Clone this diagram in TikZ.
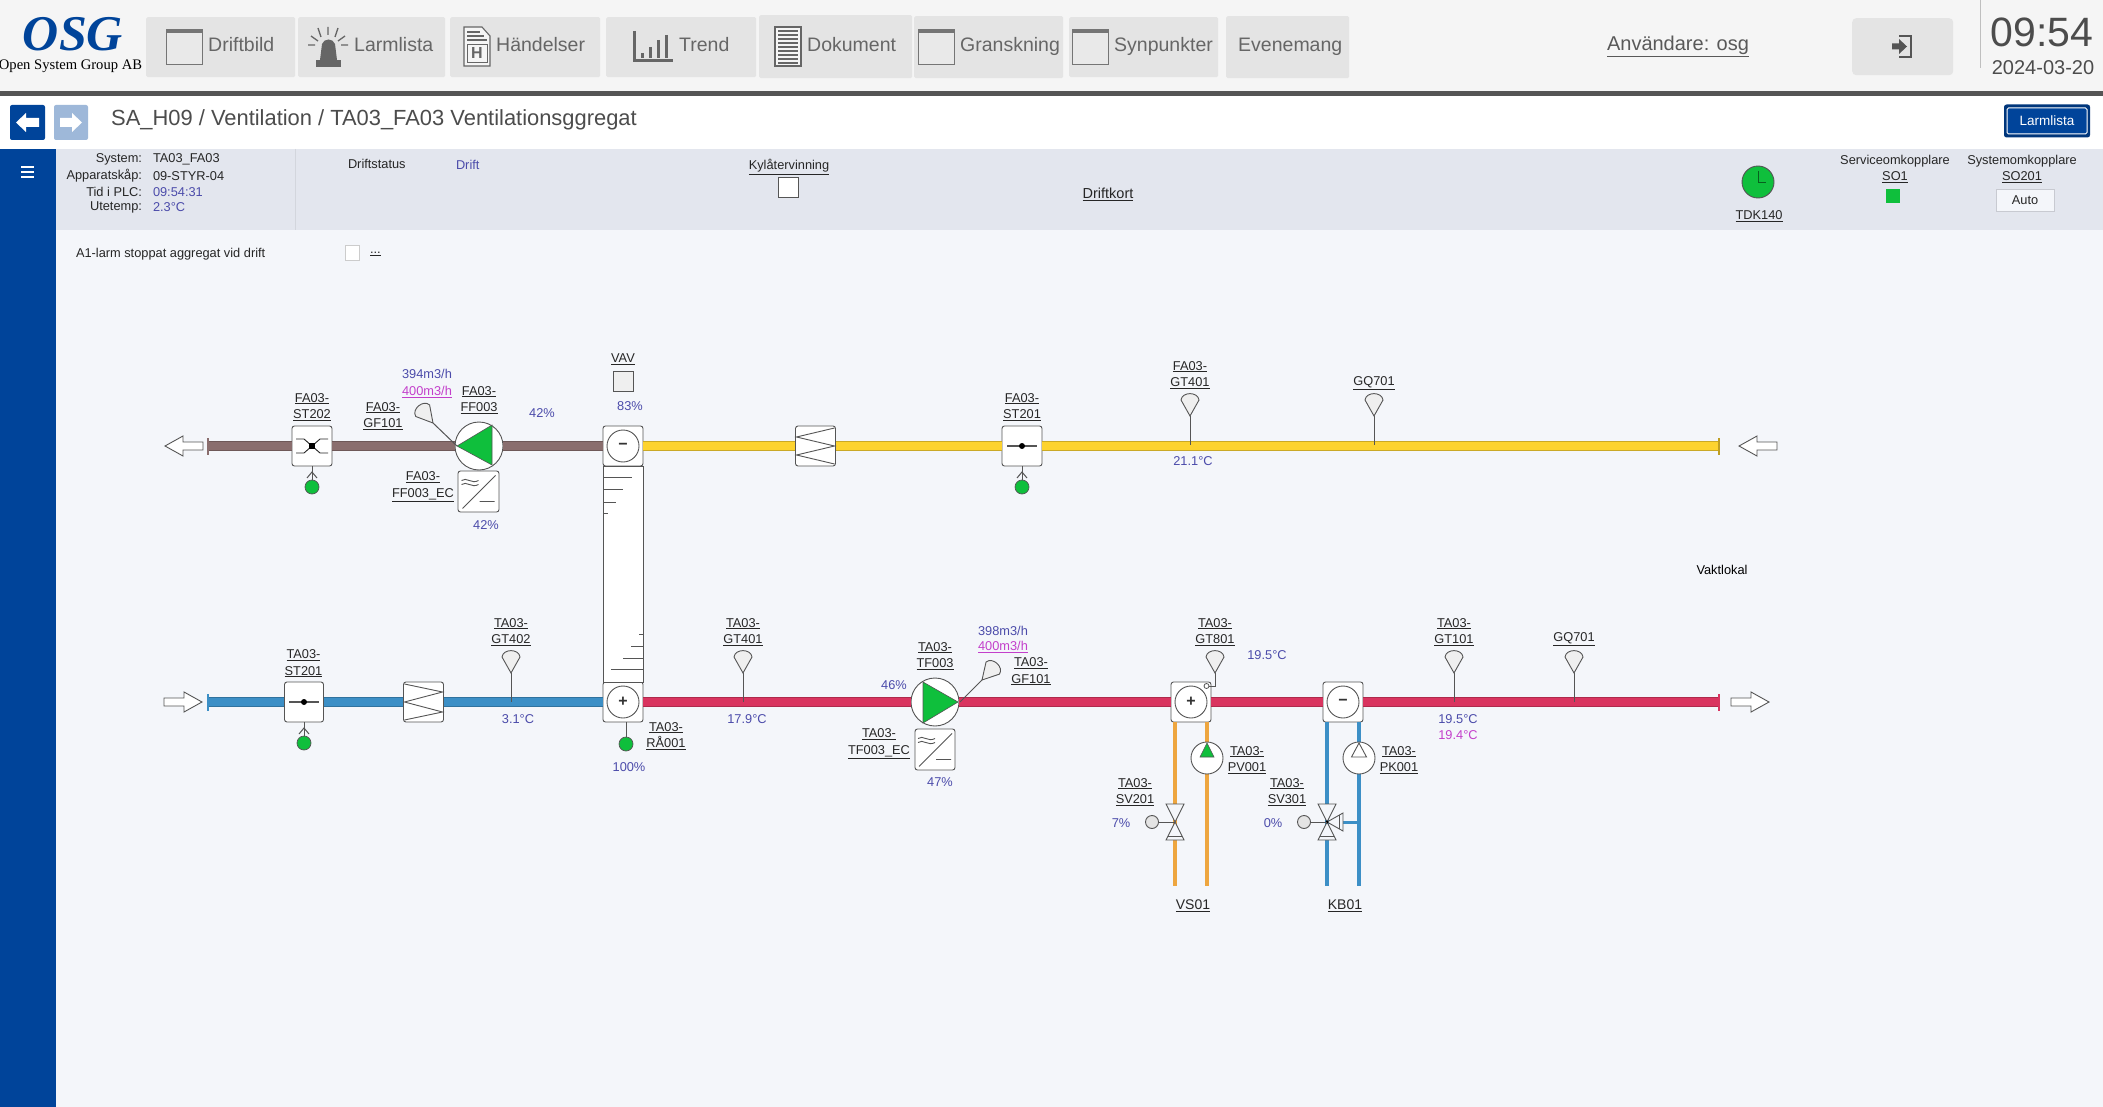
\documentclass[tikz,border=0pt]{standalone}
\usepackage{fontspec}
\setmainfont{Liberation Sans}
\newfontfamily\logofont{Liberation Serif}
\usetikzlibrary{calc}
\definecolor{pagebg}{HTML}{F4F6FA}
\definecolor{panelbg}{HTML}{E3E6EE}
\definecolor{topbg}{HTML}{F5F5F5}
\definecolor{btnbg}{HTML}{E4E4E4}
\definecolor{navy}{HTML}{00449A}
\definecolor{valblue}{HTML}{4B4BAA}
\definecolor{valmag}{HTML}{C33FCB}
\definecolor{lineg}{HTML}{555555}
\definecolor{okgreen}{HTML}{0FBF3C}
\definecolor{dbrown}{HTML}{8A6E6E}
\definecolor{dyellow}{HTML}{FDD32F}
\definecolor{dred}{HTML}{D9345F}
\definecolor{dblue}{HTML}{3C8FC6}
\definecolor{porange}{HTML}{EEA63F}
\definecolor{icong}{HTML}{666666}
\newcommand{\pxf}[2]{\fontsize{#1}{#2}\selectfont}
\newcommand{\dl}[2]{\underline{#1}\\\underline{#2}}
\tikzset{
  x=1pt,y=-1pt,
  txt/.style={inner sep=0,outer sep=0,yshift=-1pt,font=\pxf{12.8}{16.5},align=center,text=black!85},
  val/.style={txt,text=valblue},
  mag/.style={txt,text=valmag},
  navbtn/.style={fill=btnbg,rounded corners=1.5,inner sep=0,anchor=north west},
  navtxt/.style={inner sep=0,anchor=west,text height=14,text depth=4,font=\pxf{19.5}{20},text=icong},
  equip/.style={draw=lineg,line width=.9,fill=white,rounded corners=2.5,minimum width=40,minimum height=40,inner sep=0},
  coil/.style={draw=lineg,line width=.9,fill=white,circle,minimum size=32,inner sep=0,font=\bfseries\pxf{16}{16},text=black!80},
  fanbody/.style={draw=lineg,line width=.9,fill=white,circle,minimum size=48,inner sep=0},
  pumpbody/.style={draw=lineg,line width=.9,fill=white,circle,minimum size=32,inner sep=0},
  led/.style={draw=lineg,line width=.7,fill=okgreen,circle,minimum size=14,inner sep=0},
  actu/.style={draw=lineg,line width=.9,fill=btnbg,circle,minimum size=13,inner sep=0},
  endcap/.style={inner sep=0,minimum width=2.5,minimum height=17},
  duct/.style={line width=1,double distance=7.5,draw=#1!80!black,double=#1},
  pipe/.style={line width=4.5,draw=#1},
  stem/.style={draw=lineg,line width=1},
  sensorpic/.pic={\draw[lineg,line width=.9,fill=btnbg!60!white] (0,0) -- (-9,-16) .. controls (-8,-24.5) and (8,-24.5) .. (9,-16) -- cycle;},
  airarrow/.pic={\draw[lineg,line width=.9,fill=white] (0,-4) -- (20,-4) -- (20,-10) -- (38,0) -- (20,10) -- (20,4) -- (0,4) -- cycle;},
  damperone/.pic={\draw[lineg,line width=1.1] (-15,0) -- (15,0); \fill[black] (0,0) circle (3);},
  dampertwo/.pic={\draw[black!85,line width=.9] (-16,-7) -- (-8,-7) -- (8,7) -- (16,7) (-16,7) -- (-8,7) -- (8,-7) -- (16,-7); \fill[black] (-3,-3) rectangle (3,3);},
  filterpic/.pic={\draw[lineg,line width=.9] (19,-18) -- (-19,-9) -- (19,0) -- (-19,9) -- (19,18);},
  filterpicb/.pic={\draw[lineg,line width=.9] (-19,-18) -- (19,-10) -- (-19,0) -- (19,10) -- (-19,18);},
  ecpic/.pic={\draw[lineg,line width=.9] (-16,17) -- (17,-16) (1,10) -- (16,10)
     (-17,-11) .. controls (-12,-15) and (-7,-7) .. (0,-11) (-17,-7) .. controls (-12,-11) and (-7,-3) .. (0,-7);},
  valvepic/.pic={\draw[lineg,line width=.9,fill=pagebg] (-9,-18) -- (9,-18) -- (-9,18) -- (9,18) -- cycle; \draw[lineg,line width=.9] (-7,14) -- (7,14);},
  windowpic/.pic={\draw[icong!90,line width=.9,fill=topbg!95!black] (0,0) rectangle (36,35); \fill[icong!90] (0,0) rectangle (36,4);},
}
\begin{document}
\begin{tikzpicture}
\useasboundingbox (0,0) rectangle (2103,1107);
% ---- page areas
\fill[pagebg] (0,0) rectangle (2103,1107);
\fill[topbg] (0,0) rectangle (2103,91);
\fill[lineg] (0,91) rectangle (2103,96);
\fill[white] (0,96) rectangle (2103,149);
\fill[panelbg] (56,149) rectangle (2103,230);
\fill[navy] (0,149) rectangle (56,1107);
\draw[panelbg!93!black,line width=.8] (295,149) -- (295,230);
\draw[black!25,line width=1] (1980,0) -- (1980,68);
% ---- logo
\node[inner sep=0,text=navy,font=\logofont\bfseries\itshape\pxf{50}{50},text height=33,text depth=1] (logoa) at (73,35) {OSG};
\node[inner sep=0,text=black,font=\logofont\pxf{14.6}{15},text height=10,text depth=3] (logob) at (70.5,66) {Open System Group AB};
% ---- top buttons
\node[navbtn,minimum width=149,minimum height=60] (b1) at (146,17) {};
\node[navbtn,minimum width=147,minimum height=60] (b2) at (298,17) {};
\node[navbtn,minimum width=150,minimum height=60] (b3) at (450,17) {};
\node[navbtn,minimum width=150,minimum height=60] (b4) at (606,17) {};
\node[navbtn,minimum width=153,minimum height=63] (b5) at (759,15) {};
\node[navbtn,minimum width=149,minimum height=62] (b6) at (914,16) {};
\node[navbtn,minimum width=149,minimum height=60] (b7) at (1069,17) {};
\node[navbtn,minimum width=123,minimum height=62] (b8) at (1226,16) {};
\node[navbtn,minimum width=101,minimum height=57,rounded corners=4] (b9) at (1852,18) {};
\node[navtxt] (t1) at (208,47) {Driftbild};
\node[navtxt] (t2) at (354,47) {Larmlista};
\node[navtxt] (t3) at (496,47) {Händelser};
\node[navtxt] (t4) at (679,47) {Trend};
\node[navtxt] (t5) at (807,47) {Dokument};
\node[navtxt] (t6) at (960,47) {Granskning};
\node[navtxt] (t7) at (1114,47) {Synpunkter};
\node[navtxt] (t8) at (1238,47) {Evenemang};
\pic at (166,29) {windowpic};
\pic at (918,29) {windowpic};
\pic at (1072,29) {windowpic};
% siren icon
\fill[icong] (316,60) rectangle (341,67);
\fill[icong] (320,60) -- (322,44) .. controls (324,38) and (333,38) .. (335,44) -- (337,60) -- cycle;
\draw[icong,line width=1.3] (328,27) -- (328,35) (318,28) -- (321,37) (338,28) -- (335,37)
  (308,45) -- (315,45) (341,45) -- (348,45) (311,36) -- (318,41) (345,36) -- (338,41);
% document with H
\draw[icong,line width=1.1,fill=topbg] (464,27) -- (482,27) -- (490,36) -- (490,66) -- (464,66) -- cycle;
\draw[icong,line width=1.2] (467,32) -- (480,32) (467,36) -- (484,36) (467,40) -- (487,40);
\draw[icong,line width=.9] (467,44) rectangle (487,62);
\node[inner sep=0,text=icong,font=\bfseries\pxf{16}{16}] (hicon) at (477,53) {H};
% trend icon
\draw[icong,line width=3] (634,31) -- (634,61) -- (673,61);
\draw[icong,line width=3] (642,53) -- (642,58) (650,47) -- (650,58) (658,40) -- (658,58) (666,35) -- (666,58);
% document icon
\draw[icong,line width=1.1,fill=topbg] (775,27) rectangle (801,66);
\foreach \yy in {31,35,...,63} {\draw[icong,line width=1.5] (778,\yy) -- (798,\yy);}
% logout icon
\draw[lineg,line width=2] (1899,36) -- (1911,36) -- (1911,57) -- (1899,57);
\fill[lineg] (1892,43.5) -- (1899,43.5) -- (1899,39) -- (1907,46.5) -- (1899,54) -- (1899,49.5) -- (1892,49.5) -- cycle;
% ---- user + clock
\node[inner sep=0,text=black!65,font=\pxf{20}{20}] (user) at (1678,46) {\underline{Användare: osg}};
\node[inner sep=0,text=black!70,font=\pxf{41}{41}] (clock) at (2042,32) {09:54};
\node[inner sep=0,text=black!70,font=\pxf{20}{20}] (date) at (2043,68) {2024-03-20};
% ---- second row
\node[fill=navy,rounded corners=2,minimum width=35,minimum height=35,inner sep=0] (back) at (27.5,122.5) {};
\node[fill=navy!38!white,rounded corners=2,minimum width=34,minimum height=35,inner sep=0] (fwd) at (71,122.5) {};
\fill[white] (16,122.5) -- (26,113) -- (26,118) -- (39,118) -- (39,127) -- (26,127) -- (26,132) -- cycle;
\fill[white] (82,122.5) -- (72,113) -- (72,118) -- (60,118) -- (60,127) -- (72,127) -- (72,132) -- cycle;
\node[inner sep=0,anchor=west,text=black!70,font=\pxf{21.9}{22},text height=16,text depth=5] (title) at (111,120) {SA\_H09 / Ventilation / TA03\_FA03 Ventilationsggregat};
\node[fill=navy!80!black,rounded corners=2.5,minimum width=86,minimum height=33,inner sep=0] (larmo) at (2047,121) {};
\node[draw=white,line width=1,fill=navy,rounded corners=1.5,minimum width=80,minimum height=26,inner sep=0,text=white,font=\pxf{13.5}{14}] (larm) at (2047,121) {Larmlista};
% ---- panel
\foreach \yy in {167,172,177} {\draw[white,line width=2.2] (21,\yy) -- (34,\yy);}
\node[txt,anchor=east] (p1) at (142,158) {System:};
\node[txt,anchor=east] (p2) at (142,175) {Apparatskåp:};
\node[txt,anchor=east] (p3) at (142,191) {Tid i PLC:};
\node[txt,anchor=east] (p4) at (142,206) {Utetemp:};
\node[txt,anchor=west] (v1) at (153,158) {TA03\_FA03};
\node[txt,anchor=west] (v2) at (153,175) {09-STYR-04};
\node[val,anchor=west] (v3) at (153,191) {09:54:31};
\node[val,anchor=west] (v4) at (153,206) {2.3°C};
\node[txt,anchor=west] (ds) at (348,163) {Driftstatus};
\node[val,anchor=west] (dsv) at (456,164) {Drift};
\node[txt] (kyl) at (789,166) {\underline{Kylåtervinning}};
\node[draw=lineg,line width=1,fill=white,minimum width=20,minimum height=20,inner sep=0] (kylb) at (788.5,188) {};
\node[txt,font=\pxf{14.5}{15}] (dk) at (1108,193) {\underline{Driftkort}};
\node[draw=lineg,line width=.9,fill=okgreen,circle,minimum size=32,inner sep=0] (tdkc) at (1758,182) {};
\draw[black!50!okgreen,line width=.9] (1758,171) -- (1758,182) -- (1766,182);
\node[txt] (tdk) at (1759,215) {\underline{TDK140}};
\node[txt] (so1) at (1895,168) {Serviceomkopplare\\\underline{SO1}};
\node[fill=okgreen,minimum width=14,minimum height=14,inner sep=0] (so1b) at (1892.5,196) {};
\node[txt] (so2) at (2022,168) {Systemomkopplare\\\underline{SO201}};
\node[draw=panelbg!88!black,line width=1,fill=pagebg,minimum width=58,minimum height=22,inner sep=0,font=\pxf{12.8}{13},text=black!85] (auto) at (2025,200.5) {Auto};
\node[txt,anchor=west] (a1) at (76,253) {A1-larm stoppat aggregat vid drift};
\node[draw=black!20,line width=.9,fill=white,minimum width=14,minimum height=15,inner sep=0] (a1b) at (352,252.5) {};
\node[txt,anchor=west] (a1d) at (370,253) {\underline{...}};
% ---- diagram equipment nodes, upper line
\node[endcap,fill=dbrown] (capTL) at (208,446) {};
\node[equip] (st202) at (312,446) {};
\node[fanbody] (ff003) at (479,446) {};
\node[equip] (vxT) at (623,446) {};
\node[coil] (vxTc) at (623,446) {−};
\node[equip] (filtT) at (815.5,446) {};
\node[equip] (st201T) at (1022,446) {};
\node[endcap,fill=dyellow!75!black] (capTR) at (1719,446) {};
% ---- lower line
\node[endcap,fill=dblue] (capBL) at (208,702) {};
\node[equip,minimum width=39] (st201B) at (304,702) {};
\node[equip] (filtB) at (423.5,702) {};
\node[equip] (vxB) at (623,702) {};
\node[coil] (vxBc) at (623,702) {+};
\node[fanbody] (tf003) at (935,702) {};
\node[equip] (heat) at (1191,702) {};
\node[coil] (heatc) at (1191,702) {+};
\node[equip] (cool) at (1343,702) {};
\node[coil] (coolc) at (1343,702) {−};
\node[endcap,fill=dred] (capBR) at (1719,702) {};
% ---- heat exchanger column
\node[draw=lineg,line width=.9,fill=white,minimum width=40,minimum height=216,inner sep=0] (vxcol) at (623,574) {};
\draw[lineg,line width=.9] (603,477) -- (632,477) (603,489) -- (623,489) (603,502) -- (616,502) (603,513) -- (608,513)
   (643,634) -- (639,634) (643,646) -- (631,646) (643,658) -- (623,658) (643,669) -- (611,669);
% ---- ducts
\draw[duct=dbrown] (capTL) -- (st202);
\draw[duct=dbrown] (st202) -- (ff003);
\draw[duct=dbrown] (ff003) -- (vxT);
\draw[duct=dyellow] (vxT) -- (filtT);
\draw[duct=dyellow] (filtT) -- (st201T);
\draw[duct=dyellow] (st201T) -- (capTR);
\draw[duct=dblue] (capBL) -- (st201B);
\draw[duct=dblue] (st201B) -- (filtB);
\draw[duct=dblue] (filtB) -- (vxB);
\draw[duct=dred] (vxB) -- (tf003);
\draw[duct=dred] (tf003) -- (heat);
\draw[duct=dred] (heat) -- (cool);
\draw[duct=dred] (cool) -- (capBR);
% ---- air arrows
\pic[xscale=-1] at (203,446) {airarrow};
\pic[xscale=-1] at (1777,446) {airarrow};
\pic at (164,702) {airarrow};
\pic at (1731,702) {airarrow};
% ---- equipment symbols
\pic at (312,446) {dampertwo};
\pic at (1022,446) {damperone};
\pic at (304,702) {damperone};
\pic at (815.5,446) {filterpic};
\pic at (423.5,702) {filterpicb};
\node[led] (ledA) at (312,487) {};
\node[led] (ledB) at (1022,487) {};
\node[led] (ledC) at (304,743) {};
\node[led] (ledD) at (626,744) {};
\draw[stem] (st202) -- (ledA);
\draw[stem] (st201T) -- (ledB);
\draw[stem] (st201B) -- (ledC);
\draw[stem] (626,722) -- (ledD);
\draw[stem] (307,478) -- (312,472) -- (317,478);
\draw[stem] (1017,478) -- (1022,472) -- (1027,478);
\draw[stem] (299,734) -- (304,728) -- (309,734);
% fans
\draw[lineg,line width=.6,fill=okgreen] (492,425) -- (457,446) -- (492,465) -- cycle;
\draw[lineg,line width=.6,fill=okgreen] (923,682) -- (958,702) -- (923,723) -- cycle;
% EC boxes
\node[equip,minimum width=41,minimum height=41] (ecA) at (478.5,491.5) {};
\node[equip,minimum width=40,minimum height=41] (ecB) at (935,749.5) {};
\pic at (478.5,491.5) {ecpic};
\pic at (935,749.5) {ecpic};
% VAV
\node[draw=lineg,line width=1,fill=btnbg!60!white,minimum width=20,minimum height=20,inner sep=0] (vavb) at (623,381) {};
% ---- sensors
\coordinate (sGF1) at (433,423);
\coordinate (sGF1d) at (457,446);
\draw[stem] (sGF1) -- (sGF1d);
\pic[rotate=40] at (sGF1) {sensorpic};
\coordinate (sGF2) at (982,680);
\coordinate (sGF2d) at (960,702);
\draw[stem] (sGF2) -- (sGF2d);
\pic[rotate=-42] at (sGF2) {sensorpic};
\foreach \nm/\sx/\sy in {a/1190/416,b/1374/416,c/511/673,d/743/673,e/1454/673,f/1574/673}{
  \coordinate (tip\nm) at (\sx,\sy);
  \coordinate (pt\nm) at (\sx,\sy+29);
  \draw[stem] (tip\nm) -- (pt\nm);
  \pic at (tip\nm) {sensorpic};
}
% GT801 on heater
\coordinate (tipg) at (1215,673);
\coordinate (tiph) at (1215,686);
\draw[stem] (tipg) -- (tiph) -- (1209,686);
\draw[lineg,line width=.8,fill=white] (1206.5,686) circle (2.5);
\pic at (tipg) {sensorpic};
% ---- water pipes
\coordinate (pa1) at (1175,722);
\coordinate (pa2) at (1175,886);
\coordinate (pb1) at (1207,722);
\coordinate (pb2) at (1207,886);
\coordinate (pc1) at (1327,722);
\coordinate (pc2) at (1327,886);
\coordinate (pd1) at (1359,722);
\coordinate (pd2) at (1359,886);
\coordinate (pe1) at (1343,822);
\coordinate (pe2) at (1359,822);
\draw[pipe=porange] (pa1) -- (pa2);
\draw[pipe=porange] (pb1) -- (pb2);
\draw[pipe=dblue] (pc1) -- (pc2);
\draw[pipe=dblue] (pd1) -- (pd2);
\draw[pipe=dblue,line width=3] (pe1) -- (pe2);
\node[pumpbody] (pv001) at (1207,758) {};
\node[pumpbody] (pk001) at (1359,758) {};
\draw[lineg,line width=.6,fill=okgreen] (1207,743) -- (1214,757) -- (1200,757) -- cycle;
\draw[lineg,line width=.9,fill=white] (1359,743) -- (1366.5,757) -- (1351.5,757) -- cycle;
\pic at (1175,822) {valvepic};
\pic at (1327,822) {valvepic};
\draw[lineg,line width=.9,fill=pagebg] (1327,822) -- (1343,813) -- (1343,831) -- cycle;
\draw[lineg,line width=.9] (1339,815) -- (1339,829);
\fill[black] (1327,822) circle (1.6);
\node[actu] (actA) at (1152,822) {};
\node[actu] (actB) at (1304,822) {};
\draw[stem] (actA) -- (1175,822);
\draw[stem] (actB) -- (1327,822);
% ---- labels
\node[txt] (l01) at (312,406) {\dl{FA03-}{ST202}};
\node[txt] (l02) at (383,415) {\dl{FA03-}{GF101}};
\node[txt] (l03) at (479,399) {\dl{FA03-}{FF003}};
\node[txt] (l04) at (423,486) {\dl{FA03-}{FF003\_EC}};
\node[txt] (l05) at (623,358) {\underline{VAV}};
\node[txt] (l06) at (1022,406) {\dl{FA03-}{ST201}};
\node[txt] (l07) at (1190,374) {\dl{FA03-}{GT401}};
\node[txt] (l08) at (1374,382) {\underline{GQ701}};
\node[txt] (l09) at (303.5,662.5) {\dl{TA03-}{ST201}};
\node[txt] (l10) at (511,631) {\dl{TA03-}{GT402}};
\node[txt] (l11) at (666,735) {\dl{TA03-}{RÅ001}};
\node[txt] (l12) at (743,631) {\dl{TA03-}{GT401}};
\node[txt] (l13) at (935,655) {\dl{TA03-}{TF003}};
\node[txt] (l14) at (1031,670.5) {\dl{TA03-}{GF101}};
\node[txt] (l15) at (879,743) {\dl{TA03-}{TF003\_EC}};
\node[txt] (l16) at (1215,631) {\dl{TA03-}{GT801}};
\node[txt] (l17) at (1247,759) {\dl{TA03-}{PV001}};
\node[txt] (l18) at (1135,791) {\dl{TA03-}{SV201}};
\node[txt] (l19) at (1287,791) {\dl{TA03-}{SV301}};
\node[txt] (l20) at (1399,759) {\dl{TA03-}{PK001}};
\node[txt] (l21) at (1454,631) {\dl{TA03-}{GT101}};
\node[txt] (l22) at (1574,638) {\underline{GQ701}};
\node[txt,font=\pxf{14}{14}] (l23) at (1193,905) {\underline{VS01}};
\node[txt,font=\pxf{14}{14}] (l24) at (1345,905) {\underline{KB01}};
\node[txt,text=black] (l25) at (1722,569) {Vaktlokal};
% ---- values
\node[val] (m01) at (427,373) {394m3/h};
\node[mag] (m02) at (427,391) {\underline{400m3/h}};
\node[val] (m03) at (542,412) {42\%};
\node[val] (m04) at (486,524) {42\%};
\node[val] (m05) at (630,405) {83\%};
\node[val] (m06) at (1193,460) {21.1°C};
\node[val] (m07) at (518,718) {3.1°C};
\node[val] (m08) at (629,766) {100\%};
\node[val] (m09) at (747,718) {17.9°C};
\node[val] (m10) at (894,684) {46\%};
\node[val] (m11) at (940,781) {47\%};
\node[val] (m12) at (1003,630) {398m3/h};
\node[mag] (m13) at (1003,646) {\underline{400m3/h}};
\node[val] (m14) at (1267,654) {19.5°C};
\node[val] (m15) at (1121,822) {7\%};
\node[val] (m16) at (1273,822) {0\%};
\node[val] (m17) at (1458,718) {19.5°C};
\node[mag] (m18) at (1458,734) {19.4°C};
\end{tikzpicture}
\end{document}
